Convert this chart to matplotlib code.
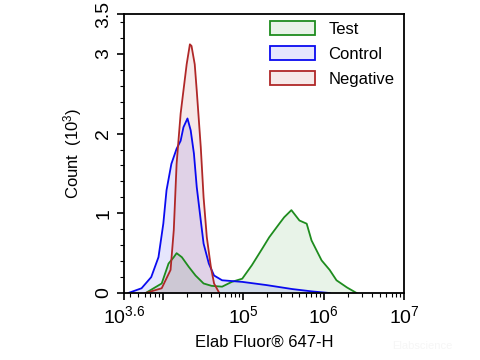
import numpy as np
import matplotlib.pyplot as plt
from matplotlib.patches import Patch
from matplotlib.colors import to_rgba
from matplotlib.ticker import FixedLocator, LogLocator, NullFormatter

plt.rcParams['font.family'] = ['Liberation Sans', 'DejaVu Sans']
plt.rcParams['mathtext.default'] = 'regular'

# log10 of fluorescence, counts in thousands
neg_log = [3.79, 3.99, 4.10, 4.14, 4.175, 4.225, 4.26, 4.30, 4.34, 4.36, 4.40, 4.425,
           4.475, 4.51, 4.55, 4.60, 4.64, 4.70]
neg_cnt = [0.0, 0.06, 0.29, 0.79, 1.62, 2.25, 2.54, 2.87, 3.12, 3.10, 2.87, 2.54,
           1.83, 1.20, 0.70, 0.33, 0.12, 0.01]

ctl_log = [3.575, 3.74, 3.86, 3.95, 4.01, 4.05, 4.11, 4.175, 4.225, 4.26, 4.31, 4.35,
           4.39, 4.425, 4.475, 4.51, 4.575, 4.64, 4.74, 4.99, 5.29, 5.61, 5.86, 6.075]
ctl_cnt = [0.0, 0.06, 0.20, 0.45, 0.87, 1.29, 1.62, 1.81, 1.91, 2.08, 2.19, 2.04,
           1.75, 1.33, 0.91, 0.62, 0.37, 0.22, 0.16, 0.14, 0.10, 0.05, 0.02, 0.0]

test_log = [3.79, 3.99, 4.075, 4.14, 4.175, 4.24, 4.325, 4.41, 4.51, 4.61, 4.74, 4.86,
            4.99, 5.11, 5.24, 5.325, 5.45, 5.51, 5.60, 5.70, 5.79, 5.85, 5.91, 5.975,
            6.075, 6.16, 6.29, 6.41]
test_cnt = [0.0, 0.12, 0.37, 0.45, 0.50, 0.45, 0.33, 0.22, 0.12, 0.09, 0.08, 0.14,
            0.18, 0.35, 0.56, 0.70, 0.87, 0.95, 1.04, 0.91, 0.87, 0.66, 0.54, 0.41,
            0.29, 0.16, 0.07, 0.0]

series = [
    ("Test", test_log, test_cnt, "#1e8c1e"),
    ("Control", ctl_log, ctl_cnt, "#0a0af0"),
    ("Negative", neg_log, neg_cnt, "#b02828"),
]

fig = plt.figure(figsize=(4.8, 3.6), dpi=100)
ax = fig.add_axes([0.258, 0.186, 0.584, 0.775])

for name, lx, cnt, col in series:
    x = 10 ** np.array(lx)
    ax.fill_between(x, 0, cnt, color=col, alpha=0.1, linewidth=0)
    ax.plot(x, cnt, color=col, linewidth=1.3)

ax.set_xscale('log')
ax.set_xlim(10 ** 3.52, 1e7)
ax.set_ylim(0, 3.5)

ax.xaxis.set_major_locator(FixedLocator([10 ** 3.52, 1e4, 1e5, 1e6, 1e7]))
ax.xaxis.set_minor_locator(LogLocator(base=10, subs=np.arange(2, 10), numticks=20))
ax.xaxis.set_minor_formatter(NullFormatter())
ax.set_xticklabels([r'10$^{3.6}$', '', r'10$^{5}$', r'10$^{6}$', r'10$^{7}$'], fontsize=14)

ax.yaxis.set_major_locator(FixedLocator([0, 1, 2, 3, 3.5]))
ax.yaxis.set_minor_locator(FixedLocator(np.arange(0, 3.5, 0.2)))
ax.set_yticklabels(['0', '1', '2', '3', '3.5'], fontsize=14, rotation=90, va='center')

ax.tick_params(which='major', direction='out', length=5, width=1.2)
ax.tick_params(which='minor', direction='out', length=3, width=0.8)
for s in ax.spines.values():
    s.set_linewidth(1.3)

ax.set_ylabel('Count  (10$^{3}$)', fontsize=12, labelpad=8)
ax.set_xlabel('Elab Fluor® 647-H', fontsize=12, labelpad=6)

handles = [Patch(facecolor=to_rgba(col, 0.1), edgecolor=col, linewidth=1.3, label=name)
           for name, _, _, col in series]
ax.legend(handles=handles, loc='upper right', frameon=False, fontsize=12,
          handlelength=2.7, handleheight=0.9, handletextpad=0.8,
          labelspacing=0.55, bbox_to_anchor=(1.0, 1.01), borderaxespad=0.2)

fig.text(0.88, 0.03, 'Elabscience', color='#f6f6f6', fontsize=8, ha='center')

fig.savefig('out.png', dpi=100)
